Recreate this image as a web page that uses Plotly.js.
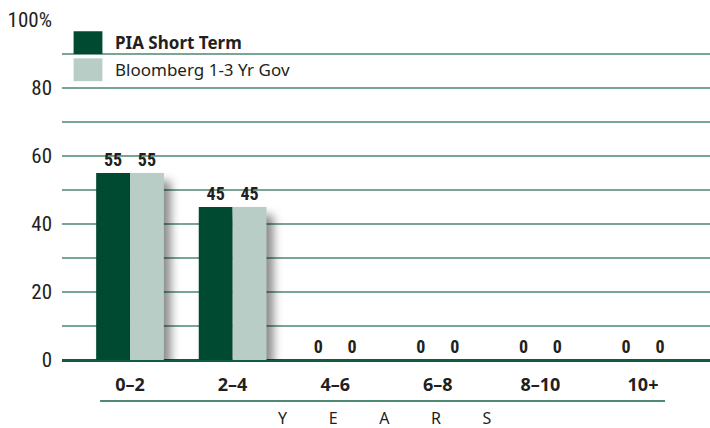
<!DOCTYPE html>
<html><head><meta charset="utf-8">
<script src="https://cdn.plot.ly/plotly-3.0.1.min.js"></script>
<style>
html,body{margin:0;padding:0;background:#fff;}
#chart{width:710px;height:428px;}
.barlayer .point path{filter:drop-shadow(7px 8px 5px rgba(0,0,0,0.45));}
.legend .legendpoints path{transform:translate(26px,0px) scale(2.4,1.9);}
</style>
</head><body>
<div id="chart"></div>
<script>
const categories = ['0–2','2–4','4–6','6–8','8–10','10+'];
const piaShortTerm = [55,45,0,0,0,0];
const bloomberg13 = [55,45,0,0,0,0];
const seriesNames = ['<b>PIA Short Term</b>','Bloomberg 1-3 Yr Gov'];
const yTickVals = [0,10,20,30,40,50,60,70,80,90,100];
const yTickText = ['0','','20','','40','','60','','80','','100%'];
const sp = '\u00a0'.repeat(10);
const axisTitle = ['Y','E','A','R','S'].join(sp);

const narrow = '"Liberation Sans Narrow", "Roboto Condensed", "Arial Narrow", sans-serif';
const labelFont = {family:narrow, size:18, color:'#231f20', weight:'bold'};
const traces = [
  {type:'bar', x:categories, y:piaShortTerm, name:seriesNames[0], legendgroup:'a', marker:{color:'#004a32'},
   text:piaShortTerm.map(String), textposition:'outside', textfont:labelFont, cliponaxis:false, hoverinfo:'skip'},
  {type:'bar', x:categories, y:bloomberg13, name:seriesNames[1], legendgroup:'b', marker:{color:'#b7cdc5'},
   text:bloomberg13.map(String), textposition:'outside', textfont:labelFont, cliponaxis:false, hoverinfo:'skip'}
];
const layout = {
  width:710, height:428,
  margin:{l:62, r:0, t:20, b:68},
  paper_bgcolor:'#fff', plot_bgcolor:'#fff',
  font:{family:'"Noto Sans", sans-serif', color:'#231f20'},
  barmode:'group', bargap:0.34, bargroupgap:0,
  showlegend:true,
  legend:{x:0.0, y:0.985, xanchor:'left', yanchor:'top', bgcolor:'rgba(0,0,0,0)',
          font:{size:17, family:'"Noto Sans", sans-serif', color:'#231f20'}, itemwidth:43, tracegroupgap:2},
  xaxis:{type:'category', range:[-0.663,5.653], showgrid:false, showline:false, zeroline:false,
         ticks:'outside', ticklen:8, tickcolor:'rgba(0,0,0,0)',
         tickfont:{size:18, family:'"Noto Sans", sans-serif', color:'#231f20', weight:'bold'}, fixedrange:true},
  yaxis:{range:[0,100], tickvals:yTickVals, ticktext:yTickText, showgrid:true, gridcolor:'#79a594', gridwidth:2,
         zeroline:true, zerolinecolor:'#0f5a40', zerolinewidth:3, showline:false, ticks:'', ticklabelstandoff:9,
         tickfont:{size:21, family:narrow, color:'#231f20'}, fixedrange:true},
  shapes:[
    {type:'line', xref:'paper', yref:'paper', x0:0.0586, x1:0.9306, y0:-0.1206, y1:-0.1206,
     line:{color:'#4f8a74', width:2}}
  ],
  annotations:[
    {xref:'paper', yref:'paper', x:0.498, y:-0.1706, text:axisTitle, showarrow:false,
     font:{size:16, family:'"Noto Sans", sans-serif', color:'#231f20'}, xanchor:'center', yanchor:'middle'}
  ]
};
Plotly.newPlot('chart', traces, layout, {displayModeBar:false, staticPlot:true});
</script>
</body></html>
